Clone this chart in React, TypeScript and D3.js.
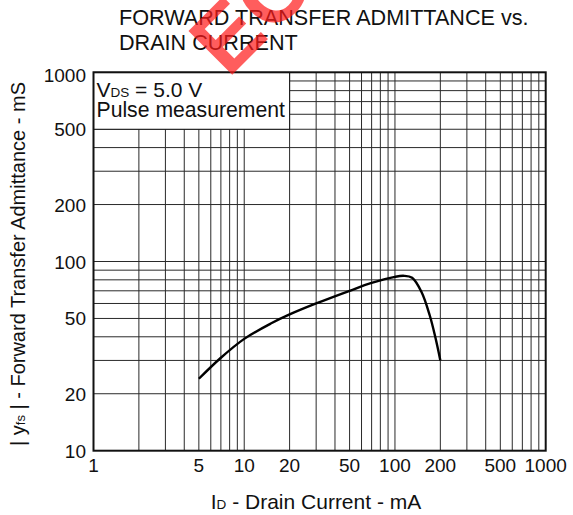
import React from "react";
import * as d3 from "d3";

// ---- data ----
const drainCurrent = [5, 7, 10, 15, 20, 30, 50, 70, 100, 115, 130, 150, 170, 185, 200]; // mA
const admittance = [24, 31, 39, 47, 52.5, 60, 70, 77, 83, 84, 82, 69, 52, 40, 30]; // mS

const xTicks = [1, 5, 10, 20, 50, 100, 200, 500, 1000];
const yTicks = [10, 20, 50, 100, 200, 500, 1000];
const xGrid = [2, 3, 4, 5, 6, 7, 8, 9, 10, 20, 30, 40, 50, 60, 70, 80, 90, 100, 200, 300, 400, 500, 600, 700, 800, 900];
const yGrid = [20, 30, 40, 50, 60, 70, 80, 90, 100, 200, 300, 400, 500, 600, 700, 800, 900];
const legendX = [1, 20];
const legendY = [500, 1000];

const W = 573;
const H = 515;
const M = { left: 93.5, right: 545.7, top: 72.3, bottom: 450.7 };
const FONT = "'Liberation Sans', Arial, Helvetica, sans-serif";

export default function App() {
  const x = d3.scaleLog().domain([1, 1000]).range([M.left, M.right]);
  const y = d3.scaleLog().domain([10, 1000]).range([M.bottom, M.top]);

  const pts: [number, number][] = drainCurrent.map((d, i) => [x(d), y(admittance[i])]);
  const line = d3.line().curve(d3.curveCatmullRom.alpha(0.5));
  const path = line(pts) || "";

  const lx0 = x(legendX[0]);
  const lx1 = x(legendX[1]);
  const ly0 = y(legendY[1]);
  const ly1 = y(legendY[0]);

  return (
    <svg
      width={W}
      height={H}
      viewBox={`0 0 ${W} ${H}`}
      style={{ position: "absolute", left: 0, top: 0, background: "#fff" }}
      fontFamily={FONT}
    >
      <rect x={0} y={0} width={W} height={H} fill="#fff" />
      {/* title */}
      <text x={119} y={25} fontSize={21.6} fill="#111">FORWARD TRANSFER ADMITTANCE vs.</text>
      <text x={119} y={50} fontSize={21.6} fill="#111">DRAIN CURRENT</text>

      {/* grid */}
      <g stroke="#2a2a2a" strokeWidth={1}>
        {xGrid.map((v) => (
          <line key={"gx" + v} x1={x(v)} x2={x(v)} y1={M.top} y2={M.bottom} />
        ))}
        {yGrid.map((v) => (
          <line key={"gy" + v} x1={M.left} x2={M.right} y1={y(v)} y2={y(v)} />
        ))}
      </g>

      {/* legend box */}
      <rect x={lx0} y={ly0} width={lx1 - lx0} height={ly1 - ly0} fill="#fff" stroke="#111" strokeWidth={1} />
      <text x={lx0 + 3} y={ly0 + 25} fontSize={21} fill="#111">
        V<tspan fontSize={13.5}>DS</tspan> = 5.0 V
      </text>
      <text x={lx0 + 3} y={ly0 + 45} fontSize={21.2} fill="#111">Pulse measurement</text>

      {/* curve */}
      <path d={path} fill="none" stroke="#000" strokeWidth={2.4} strokeLinejoin="round" />

      {/* frame */}
      <rect x={M.left} y={M.top} width={M.right - M.left} height={M.bottom - M.top} fill="none" stroke="#111" strokeWidth={2} />

      {/* y ticks */}
      {yTicks.map((v) => (
        <text key={"yt" + v} x={86} y={v === 1000 ? y(v) + 9.5 : y(v) + 7} fontSize={19} textAnchor="end" fill="#111">
          {v}
        </text>
      ))}
      {/* x ticks */}
      {xTicks.map((v) => (
        <text key={"xt" + v} x={x(v)} y={472} fontSize={19} textAnchor="middle" fill="#111">
          {v}
        </text>
      ))}

      {/* axis titles */}
      <text x={316} y={509} fontSize={21} textAnchor="middle" fill="#111">
        I<tspan fontSize={13.5}>D</tspan> - Drain Current - mA
      </text>
      <text transform={`translate(25, 264) rotate(-90)`} fontSize={20} textAnchor="middle" fill="#111">
        | y<tspan fontSize={13}>fs</tspan> | - Forward Transfer Admittance - mS
      </text>

      {/* watermark */}
      <text
        transform="translate(228, 79) rotate(-45)"
        fontSize={90}
        fontWeight="bold"
        fill="#ff1a1a"
        opacity={0.7}
      >
        EOL
      </text>
    </svg>
  );
}
